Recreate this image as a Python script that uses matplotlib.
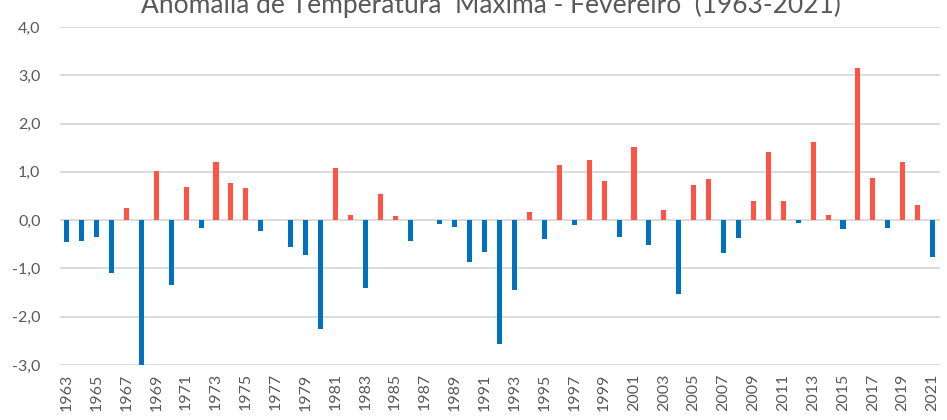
import matplotlib.pyplot as plt
from matplotlib.ticker import FuncFormatter

plt.rcParams['font.family'] = ['Lato', 'DejaVu Sans']

years = list(range(1963, 2022))
anomalies = [
    -0.46, -0.43, -0.35, -1.10, 0.26, -3.00, 1.01, -1.34, 0.68, -0.17,
    1.20, 0.77, 0.66, -0.22, 0.00, -0.55, -0.72, -2.26, 1.08, 0.11,
    -1.40, 0.54, 0.08, -0.43, 0.00, -0.08, -0.15, -0.86, -0.67, -2.57,
    -1.44, 0.16, -0.40, 1.14, -0.11, 1.24, 0.82, -0.34, 1.51, -0.52,
    0.22, -1.52, 0.72, 0.86, -0.69, -0.38, 0.39, 1.41, 0.39, -0.06,
    1.61, 0.10, -0.19, 3.16, 0.88, -0.17, 1.20, 0.32, -0.76,
]
title = 'Anomalia de Temperatura  Máxima - Fevereiro  (1963-2021)'

red = '#FF5343'
blue = '#0070C0'
grey_text = '#595959'

fig = plt.figure(figsize=(9.47, 4.2), dpi=100)
ax = fig.add_axes([60 / 947, 55 / 420, 880 / 947, 338 / 420])

colors = [red if v > 0 else blue for v in anomalies]
ax.bar(range(len(years)), anomalies, width=0.34, color=colors, zorder=3)

ax.set_ylim(-3, 4)
ax.set_xlim(-0.45, len(years) - 0.5)
ax.set_yticks(range(-3, 5))
ax.yaxis.set_major_formatter(FuncFormatter(lambda v, p: f'{v:.1f}'.replace('.', ',')))
ax.set_xticks(range(0, len(years), 2))
ax.set_xticklabels([str(y) for y in years[::2]], rotation=90)
ax.grid(axis='y', color='#D9D9D9', linewidth=1.3, zorder=0)
ax.tick_params(length=0, colors=grey_text, labelsize=11.5)
ax.tick_params(axis='y', pad=14)
ax.tick_params(axis='x', pad=6)
for s in ax.spines.values():
    s.set_visible(False)

# title sits partly above the top edge, as in the source image
fig.text(491 / 947, 1 - 13 / 420, title, ha='center', va='baseline',
         fontsize=19, color=grey_text)

fig.savefig('out.png', dpi=100)
